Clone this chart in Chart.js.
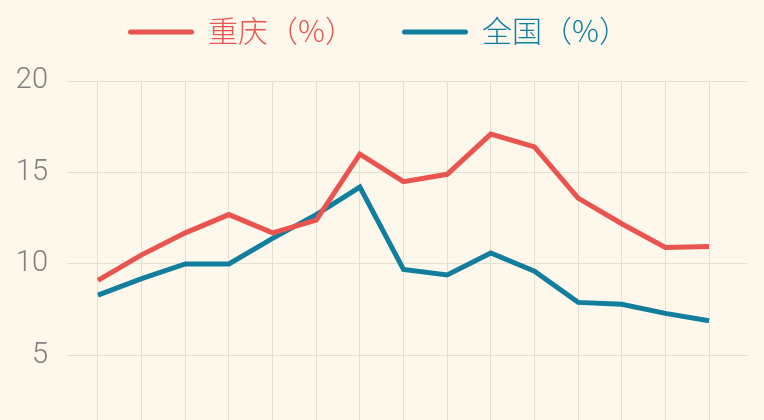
<!DOCTYPE html>
<html>
<head>
<meta charset="utf-8">
<script src="https://cdn.jsdelivr.net/npm/chart.js@4/dist/chart.umd.min.js"></script>
<style>
  html, body { margin: 0; padding: 0; background: #fef8ec; overflow: hidden; }
  #wrap { width: 764px; height: 420px; overflow: hidden; }
  canvas { display: block; }
</style>
</head>
<body>
<div id="wrap"><canvas id="c" width="764" height="457"></canvas></div>
<script>
// ---- data ----
const categories = ['2001','2002','2003','2004','2005','2006','2007','2008','2009','2010','2011','2012','2013','2014','2015'];
const chongqing = [9.1, 10.5, 11.7, 12.7, 11.7, 12.4, 16.0, 14.5, 14.9, 17.1, 16.4, 13.6, 12.2, 10.9, 10.95];
const national  = [8.3, 9.2, 10.0, 10.0, 11.4, 12.7, 14.2, 9.7, 9.4, 10.6, 9.6, 7.9, 7.8, 7.3, 6.9];
const seriesNames = ['重庆（%）', '全国（%）'];
const yTicks = [5, 10, 15, 20];

const RED = '#e9544f';
const BLUE = '#127e9e';
const GRID = '#e5dfcf';

const toPoints = arr => arr.map((v, i) => ({ x: i, y: v }));

const legendPlugin = {
  id: 'customLegend',
  afterDraw(chart) {
    const ctx = chart.ctx;
    const lineW = 66, gap = 14, y = 32;
    const starts = [128, 402];
    ctx.save();
    ctx.font = '300 30px "Noto Sans CJK SC", sans-serif';
    chart.data.datasets.forEach((ds, i) => {
      const x = starts[i];
      ctx.strokeStyle = ds.borderColor;
      ctx.lineWidth = 5;
      ctx.lineCap = 'round';
      ctx.beginPath();
      ctx.moveTo(x + 2.5, y);
      ctx.lineTo(x + lineW - 2.5, y);
      ctx.stroke();
      ctx.fillStyle = ds.borderColor;
      ctx.textBaseline = 'middle';
      ctx.textAlign = 'left';
      ctx.fillText(ds.label, x + lineW + gap, y - 1);
    });
    ctx.restore();
  }
};

new Chart(document.getElementById('c'), {
  type: 'line',
  data: {
    datasets: [
      { label: seriesNames[0], data: toPoints(chongqing), borderColor: RED, backgroundColor: RED,
        borderWidth: 5, pointRadius: 0, tension: 0, fill: false },
      { label: seriesNames[1], data: toPoints(national), borderColor: BLUE, backgroundColor: BLUE,
        borderWidth: 5, pointRadius: 0, tension: 0, fill: false }
    ]
  },
  options: {
    responsive: false,
    animation: false,
    devicePixelRatio: 1,
    layout: { padding: { top: 81, right: 17, bottom: 0, left: 0 } },
    plugins: { legend: { display: false }, tooltip: { enabled: false } },
    scales: {
      x: {
        type: 'linear',
        min: -0.71,
        max: 14.87,
        afterBuildTicks: axis => { axis.ticks = categories.map((_, i) => ({ value: i })); },
        ticks: { display: false },
        grid: { color: GRID, lineWidth: 1, drawTicks: false },
        border: { display: false }
      },
      y: {
        min: 1.44,
        max: 20,
        afterBuildTicks: axis => { axis.ticks = yTicks.map(v => ({ value: v })); },
        afterFit: scale => { scale.width = 67; },
        ticks: {
          padding: 19,
          color: '#808080',
          font: { family: '"Liberation Sans Narrow", "Roboto", sans-serif', size: 29, weight: 300 }
        },
        grid: { color: GRID, lineWidth: 1, drawTicks: false },
        border: { display: false }
      }
    }
  },
  plugins: [legendPlugin]
});
</script>
</body>
</html>
